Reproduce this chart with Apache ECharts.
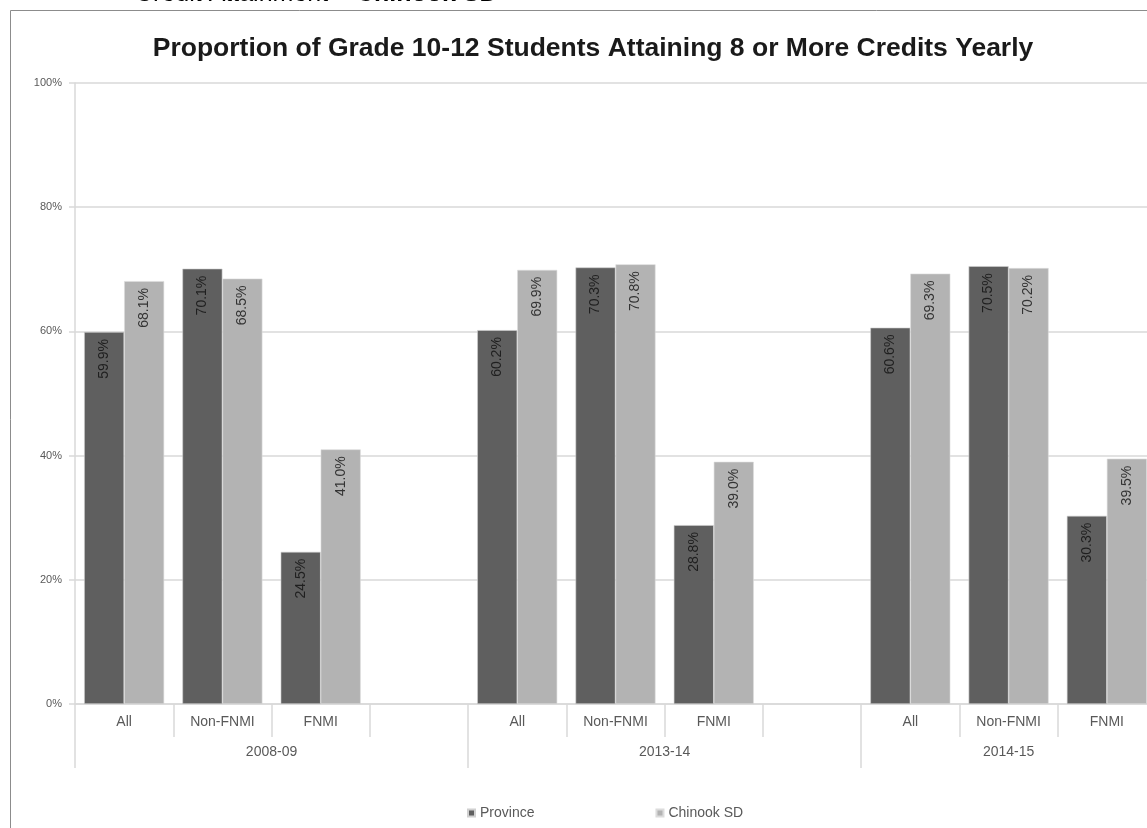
<!DOCTYPE html>
<html>
<head>
<meta charset="utf-8">
<script src="https://cdn.jsdelivr.net/npm/echarts@6/dist/echarts.min.js"></script>
<style>
  html, body { margin: 0; padding: 0; overflow: hidden; background: #fff; width: 1147px; height: 828px; }
  #chart { width: 1180px; height: 828px; }
</style>
</head>
<body>
<div id="chart"></div>
<script>
// ---- data ----
const subCategories = ['All', 'Non-FNMI', 'FNMI', '', 'All', 'Non-FNMI', 'FNMI', '', 'All', 'Non-FNMI', 'FNMI'];
const groupLabels = ['2008-09', '2013-14', '2014-15'];
const groupSizes = [4, 4, 3];
const province = [59.9, 70.1, 24.5, null, 60.2, 70.3, 28.8, null, 60.6, 70.5, 30.3];
const chinook = [68.1, 68.5, 41.0, null, 69.9, 70.8, 39.0, null, 69.3, 70.2, 39.5];
const seriesNames = ['Province', 'Chinook SD'];
const yTicks = [0, 20, 40, 60, 80, 100];
const titleText = 'Proportion of Grade 10-12 Students Attaining 8 or More Credits Yearly';
const headingPlain = 'Credit Attainment – ';
const headingBold = 'Chinook SD';

// group boundaries and centres derived from group sizes
const boundaries = [0];
const centres = [];
groupSizes.forEach(s => {
  const start = boundaries[boundaries.length - 1];
  centres.push(start + s / 2);
  boundaries.push(start + s);
});

const font = '"Liberation Sans", Arial, sans-serif';
const gridColor = '#d9d9d9';
const textColor = '#595959';

const chart = echarts.init(document.getElementById('chart'), null, { renderer: 'canvas' });

const labelCfg = (color) => ({
  show: true,
  position: 'insideTop',
  distance: 7,
  rotate: 90,
  align: 'right',
  verticalAlign: 'middle',
  fontSize: 14,
  fontFamily: font,
  color: color,
  formatter: p => p.value.toFixed(1) + '%'
});

chart.setOption({
  animation: false,
  backgroundColor: '#fff',
  title: {
    text: titleText,
    left: 588,
    textAlign: 'center',
    top: 30,
    textStyle: { fontFamily: font, fontWeight: 'bold', fontSize: 26.5, color: '#1a1a1a' }
  },
  graphic: [
    {
      type: 'rect',
      shape: { x: 10.5, y: 10.5, width: 1155, height: 840 },
      style: { fill: 'none', stroke: '#8c8c8c', lineWidth: 1 },
      silent: true,
      z: 100
    },
    {
      type: 'text',
      x: 135,
      y: 7,
      z: 100,
      style: {
        text: '{a|' + headingPlain + '}{b|' + headingBold + '}',
        verticalAlign: 'bottom',
        rich: {
          a: { fontFamily: font, fontSize: 25, color: '#333' },
          b: { fontFamily: font, fontSize: 25, fontWeight: 'bold', color: '#111' }
        }
      }
    }
  ],
  legend: {
    data: seriesNames,
    left: 462,
    top: 801,
    itemWidth: 7,
    itemHeight: 7,
    itemGap: 121,
    icon: 'rect',
    textStyle: { fontFamily: font, fontSize: 14, color: textColor }
  },
  grid: { left: 75, right: 24, top: 83, bottom: 124, containLabel: false },
  xAxis: [
    {
      type: 'category',
      data: subCategories,
      position: 'bottom',
      axisLine: { show: true, lineStyle: { color: gridColor, width: 1.5 } },
      axisTick: { show: true, length: 33, alignWithLabel: false, interval: 0, lineStyle: { color: gridColor, width: 1.5 } },
      axisLabel: { interval: 0, margin: 11, fontFamily: font, fontSize: 14, color: textColor },
      splitLine: { show: false }
    },
    {
      type: 'value',
      min: 0,
      max: subCategories.length,
      position: 'bottom',
      axisLine: { show: false },
      axisTick: { show: true, length: 64, customValues: boundaries, lineStyle: { color: gridColor, width: 1.5 } },
      axisLabel: {
        show: true,
        customValues: centres,
        margin: 41,
        fontFamily: font, fontSize: 14, color: textColor,
        formatter: v => { const i = centres.indexOf(v); return i >= 0 ? groupLabels[i] : ''; }
      },
      splitLine: { show: false }
    }
  ],
  yAxis: {
    type: 'value',
    min: yTicks[0],
    max: yTicks[yTicks.length - 1],
    interval: 20,
    axisLine: { show: true, lineStyle: { color: gridColor, width: 1.5 } },
    axisTick: { show: true, length: 6, lineStyle: { color: gridColor, width: 1.5 } },
    axisLabel: { margin: 13, fontFamily: font, fontSize: 11, color: textColor, formatter: v => v + '%' },
    splitLine: { show: true, lineStyle: { color: gridColor, width: 1.5 } }
  },
  series: [
    {
      name: seriesNames[0],
      type: 'bar',
      xAxisIndex: 0,
      data: province,
      barWidth: 40,
      barGap: '0%',
      itemStyle: { color: '#5f5f5f', borderColor: '#d0d0d0', borderWidth: 0.6 },
      label: labelCfg('#1f1f1f')
    },
    {
      name: seriesNames[1],
      type: 'bar',
      xAxisIndex: 0,
      data: chinook,
      barWidth: 40,
      barGap: '0%',
      itemStyle: { color: '#b3b3b3', borderColor: '#dcdcdc', borderWidth: 0.6 },
      label: labelCfg('#333333')
    }
  ]
});
</script>
</body>
</html>
